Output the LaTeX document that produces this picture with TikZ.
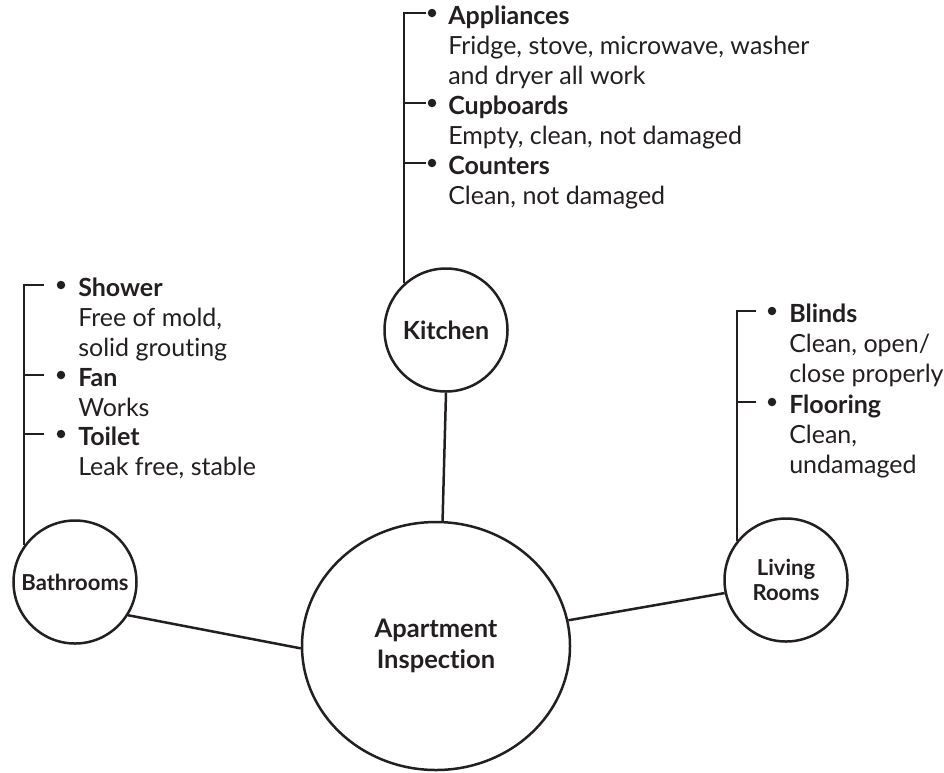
\documentclass[tikz,border=0pt]{standalone}
\usepackage{fontspec}
\setmainfont{Lato}[Ligatures=NoCommon]
\usepackage{xcolor}
\usetikzlibrary{shapes.geometric, positioning}
\definecolor{ink}{HTML}{231F20}

\begin{document}
\begin{tikzpicture}[
    x=1pt, y=-1pt,
    line width=2.5pt,
    color=ink,
    hub/.style={
      draw,
      ellipse,
      align=center,
      inner sep=0pt,
      font=\bfseries\fontsize{25.5}{31}\selectfont
    },
    room/.style={
      draw,
      circle,
      align=center,
      inner sep=0pt,
      minimum size=123pt,
      font=\bfseries\fontsize{25}{27}\selectfont
    },
    smallroom/.style={
      room,
      font=\bfseries\fontsize{22}{24.5}\selectfont
    },
    dot/.style={
      circle,
      fill,
      inner sep=0pt,
      minimum size=8.5pt
    },
    item/.style={
      anchor=north west,
      inner sep=0pt,
      align=left,
      font=\fontsize{25}{30}\selectfont
    }
]

\useasboundingbox (0,0) rectangle (944,772);

% 1) Centre and the three rooms
\node[hub, minimum width=268pt, minimum height=248pt] (main) at (436,646) {Apartment\\Inspection};
\node[room] (kitchen) at (446,330) {Kitchen};
\node[smallroom] (bath) at (75,582) {Bathrooms};
\node[smallroom] (living) at (786,580) {Living\\Rooms};

% 2) Spokes
\draw (kitchen.south) -- (main.87);
\draw (bath.-32) -- (main.181);
\draw (main.11) -- (living.192);

% 3) Kitchen list
\node[dot] (kA) at (432,13) {};
\node[dot] (kB) at (432,103) {};
\node[dot] (kC) at (432,163) {};
\node[item] (appl) at ([shift={(15pt,10.5pt)}]kA.center) {\strut\textbf{Appliances}\\Fridge, stove, microwave, washer\\and dryer all work};
\node[item] (cupb) at ([shift={(15pt,10.5pt)}]kB.center) {\strut\textbf{Cupboards}\\Empty, clean, not damaged};
\node[item] (coun) at ([shift={(15pt,10.5pt)}]kC.center) {\strut\textbf{Counters}\\Clean, not damaged};
\draw[shorten >=1pt] (kitchen.132) |- (kA);
\draw[shorten >=1pt] (kB -| kitchen.132) -- (kB);
\draw[shorten >=1pt] (kC -| kitchen.132) -- (kC);

% 4) Bathrooms list
\node[dot] (bA) at (61,285) {};
\node[dot] (bB) at (61,375) {};
\node[dot] (bC) at (61,434) {};
\node[item] (show) at ([shift={(16pt,10.5pt)}]bA.center) {\strut\textbf{Shower}\\Free of mold,\\solid grouting};
\node[item] (fan) at ([shift={(16pt,10.5pt)}]bB.center) {\strut\textbf{Fan}\\Works};
\node[item] (toil) at ([shift={(16pt,10.5pt)}]bC.center) {\strut\textbf{Toilet}\\Leak free, stable};
\draw[shorten >=11.5pt] (bath.144) |- (bA);
\draw[shorten >=11.5pt] (bB -| bath.144) -- (bB);
\draw[shorten >=11.5pt] (bC -| bath.144) -- (bC);

% 5) Living rooms list
\node[dot] (lA) at (772,311) {};
\node[dot] (lB) at (772,402) {};
\node[item] (blin) at ([shift={(16pt,10.5pt)}]lA.center) {\strut\textbf{Blinds}\\Clean, open/\\close properly};
\node[item] (floo) at ([shift={(16pt,10.5pt)}]lB.center) {\strut\textbf{Flooring}\\Clean,\\undamaged};
\draw[shorten >=10.5pt] (living.141) |- (lA);
\draw[shorten >=10.5pt] (lB -| living.141) -- (lB);

\end{tikzpicture}
\end{document}
